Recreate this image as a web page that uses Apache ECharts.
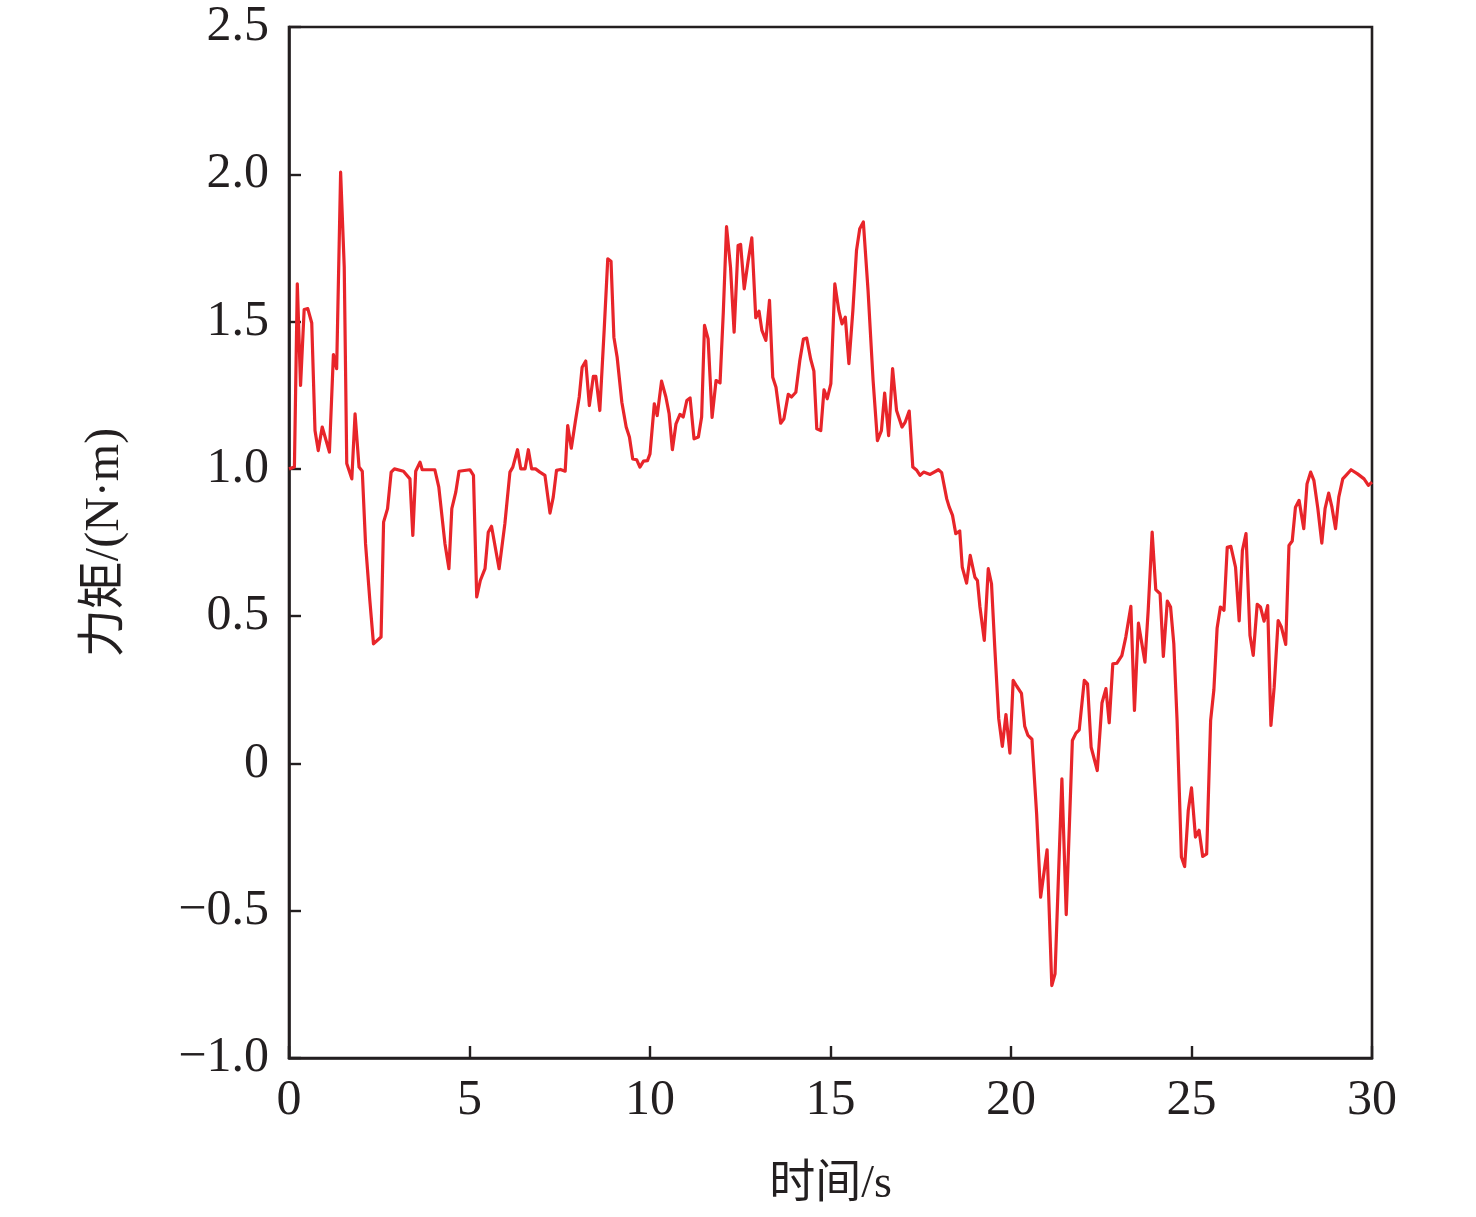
<!DOCTYPE html>
<html>
<head>
<meta charset="utf-8">
<script src="https://cdn.jsdelivr.net/npm/echarts@6/dist/echarts.min.js"></script>
<style>html,body{margin:0;padding:0;background:#fff}#c{width:1476px;height:1217px}</style>
</head>
<body>
<div id="c"></div>
<script>
const timeValues = [0,0.15,0.23,0.32,0.42,0.52,0.63,0.72,0.81,0.92,1.12,1.23,1.32,1.43,1.53,1.6,1.74,1.83,1.94,2.03,2.12,2.24,2.34,2.55,2.62,2.73,2.83,2.92,3.17,3.35,3.43,3.51,3.63,3.69,4.04,4.15,4.32,4.43,4.51,4.62,4.71,5.01,5.11,5.2,5.3,5.43,5.52,5.61,5.82,5.98,6.12,6.2,6.33,6.42,6.54,6.63,6.72,6.83,6.95,7.09,7.23,7.32,7.41,7.52,7.65,7.72,7.82,7.93,8.04,8.12,8.22,8.32,8.43,8.5,8.61,8.73,8.83,8.92,9.0,9.09,9.22,9.34,9.43,9.52,9.63,9.72,9.82,9.93,10.0,10.12,10.2,10.32,10.44,10.53,10.62,10.72,10.83,10.92,11.02,11.11,11.22,11.34,11.43,11.51,11.61,11.72,11.83,11.94,12.03,12.12,12.23,12.33,12.44,12.51,12.61,12.72,12.82,12.93,13.02,13.1,13.21,13.31,13.4,13.49,13.62,13.71,13.83,13.92,14.04,14.15,14.25,14.34,14.45,14.54,14.62,14.73,14.82,14.91,15.01,15.12,15.23,15.32,15.41,15.51,15.62,15.72,15.81,15.91,16.04,16.18,16.3,16.41,16.5,16.61,16.72,16.83,16.98,17.07,17.18,17.28,17.39,17.48,17.58,17.76,17.99,18.08,18.22,18.29,18.38,18.47,18.58,18.65,18.77,18.87,19.0,19.07,19.14,19.26,19.37,19.46,19.55,19.66,19.76,19.86,19.97,20.06,20.16,20.29,20.38,20.47,20.58,20.71,20.82,21.0,21.13,21.22,21.41,21.53,21.7,21.8,21.89,22.03,22.12,22.22,22.39,22.52,22.63,22.72,22.82,22.93,23.07,23.18,23.32,23.42,23.53,23.71,23.8,23.91,24.01,24.13,24.22,24.33,24.42,24.51,24.6,24.72,24.81,24.91,25.0,25.11,25.21,25.31,25.42,25.53,25.62,25.71,25.8,25.9,25.99,26.09,26.22,26.32,26.41,26.51,26.62,26.71,26.82,26.91,27.01,27.11,27.2,27.29,27.4,27.49,27.61,27.7,27.79,27.88,27.98,28.11,28.2,28.3,28.39,28.5,28.61,28.7,28.8,28.89,28.99,29.08,29.19,29.28,29.42,29.6,29.78,29.9,30.0];
const torqueValues = [1.0,1.006,1.628,1.283,1.541,1.544,1.495,1.13,1.062,1.142,1.057,1.388,1.34,2.007,1.685,1.018,0.966,1.187,1.006,0.992,0.746,0.553,0.406,0.429,0.819,0.865,0.989,1.0,0.992,0.966,0.774,0.992,1.023,0.997,0.997,0.938,0.746,0.661,0.865,0.921,0.992,0.997,0.978,0.565,0.621,0.661,0.785,0.805,0.661,0.814,0.989,1.006,1.065,1.0,1.0,1.065,1.0,1.0,0.989,0.978,0.85,0.904,0.995,0.998,0.992,1.147,1.07,1.159,1.244,1.345,1.366,1.215,1.314,1.314,1.198,1.47,1.713,1.705,1.447,1.379,1.226,1.142,1.108,1.034,1.031,1.006,1.026,1.028,1.051,1.221,1.181,1.298,1.244,1.187,1.065,1.153,1.185,1.176,1.232,1.241,1.102,1.108,1.176,1.487,1.441,1.175,1.3,1.292,1.53,1.822,1.685,1.464,1.758,1.762,1.611,1.707,1.784,1.513,1.535,1.47,1.436,1.572,1.311,1.277,1.155,1.17,1.253,1.244,1.26,1.368,1.441,1.444,1.373,1.332,1.136,1.13,1.268,1.238,1.289,1.628,1.538,1.492,1.515,1.357,1.538,1.741,1.815,1.838,1.606,1.3,1.096,1.13,1.257,1.113,1.34,1.198,1.142,1.159,1.196,1.006,0.995,0.978,0.989,0.981,0.997,0.987,0.898,0.87,0.842,0.78,0.789,0.666,0.612,0.706,0.632,0.621,0.531,0.418,0.661,0.61,0.395,0.152,0.058,0.166,0.035,0.282,0.262,0.238,0.126,0.095,0.082,-0.171,-0.454,-0.293,-0.754,-0.714,-0.052,-0.513,0.078,0.103,0.114,0.282,0.27,0.055,-0.024,0.205,0.254,0.138,0.338,0.34,0.366,0.429,0.533,0.18,0.476,0.344,0.519,0.785,0.59,0.576,0.363,0.551,0.531,0.406,0.146,-0.318,-0.35,-0.16,-0.083,-0.25,-0.227,-0.316,-0.307,0.146,0.25,0.46,0.531,0.52,0.734,0.737,0.666,0.484,0.723,0.78,0.434,0.367,0.54,0.531,0.483,0.536,0.129,0.259,0.485,0.463,0.404,0.74,0.755,0.87,0.893,0.797,0.949,0.989,0.961,0.865,0.748,0.865,0.918,0.87,0.797,0.904,0.966,0.978,0.997,0.983,0.966,0.944,0.955];
const yTickValues = [-1.0,-0.5,0,0.5,1.0,1.5,2.0,2.5];
const yTickLabels = ['\u22121.0','\u22120.5','0','0.5','1.0','1.5','2.0','2.5'];
const xTickValues = [0,5,10,15,20,25,30];
const xTickLabels = ['0','5','10','15','20','25','30'];

const seriesData = timeValues.map((t, i) => [t, torqueValues[i]]);
const axisColor = '#231f20';
const fontFam = '"Liberation Serif", "Times New Roman", "Noto Sans CJK SC", serif';

const chart = echarts.init(document.getElementById('c'), null, {renderer: 'canvas'});
chart.setOption({
  animation: false,
  backgroundColor: '#ffffff',
  grid: {left: 289, right: 104, top: 27, bottom: 159, show: true, borderColor: axisColor, borderWidth: 2.6, backgroundColor: 'transparent'},
  xAxis: {
    type: 'value', min: 0, max: 30, interval: 5,
    name: '时间/s', nameLocation: 'middle', nameGap: 104,
    nameTextStyle: {fontFamily: fontFam, fontSize: 46, color: axisColor},
    axisLine: {show: true, onZero: false, lineStyle: {color: axisColor, width: 2.6}},
    axisTick: {show: true, inside: true, length: 12, lineStyle: {color: axisColor, width: 2.4}},
    axisLabel: {margin: 18, fontFamily: fontFam, fontSize: 50, color: axisColor,
      formatter: v => { const i = xTickValues.indexOf(v); return i >= 0 ? xTickLabels[i] : ''; }},
    splitLine: {show: false}
  },
  yAxis: {
    type: 'value', min: -1, max: 2.5, interval: 0.5,
    name: '力矩/(N·m)', nameLocation: 'middle', nameGap: 160, nameRotate: 90,
    nameTextStyle: {fontFamily: fontFam, fontSize: 48, color: axisColor},
    axisLine: {show: true, onZero: false, lineStyle: {color: axisColor, width: 2.6}},
    axisTick: {show: true, inside: true, length: 12, lineStyle: {color: axisColor, width: 2.4}},
    axisLabel: {margin: 20, fontFamily: fontFam, fontSize: 50, color: axisColor,
      formatter: v => { const i = yTickValues.findIndex(x => Math.abs(x - v) < 1e-9); return i >= 0 ? yTickLabels[i] : ''; }},
    splitLine: {show: false}
  },
  series: [{
    type: 'line', data: seriesData, showSymbol: false, symbol: 'none',
    lineStyle: {color: '#e8252a', width: 3.2, join: 'round'},
    clip: true
  }]
});
</script>
</body>
</html>
